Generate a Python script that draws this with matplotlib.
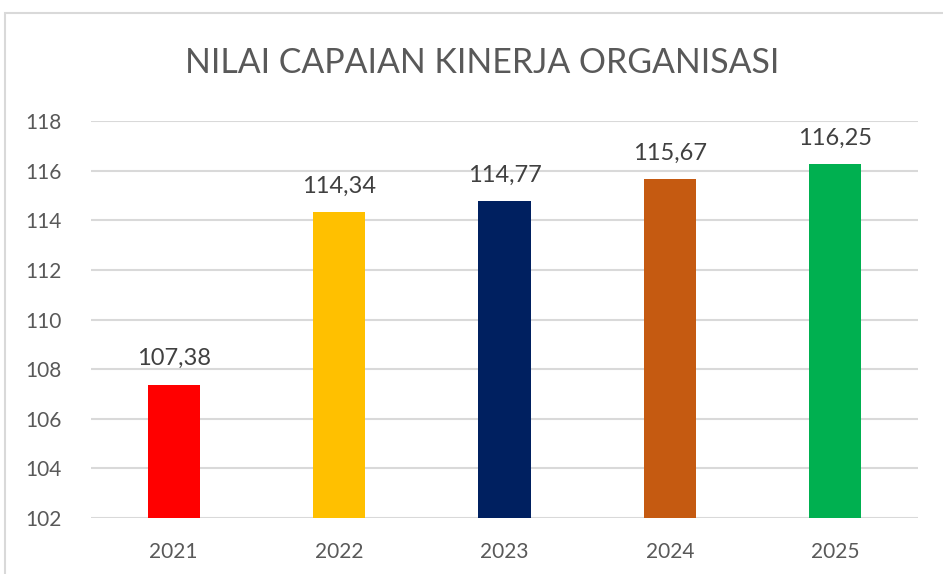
import matplotlib.pyplot as plt
from matplotlib.patches import Rectangle

# Data
years = ['2021', '2022', '2023', '2024', '2025']
values = [107.38, 114.34, 114.77, 115.67, 116.25]
colors = ['#FF0000', '#FFC000', '#002060', '#C55A11', '#00B050']
yticks = [102, 104, 106, 108, 110, 112, 114, 116, 118]

plt.rcParams['font.family'] = ['Lato', 'DejaVu Sans']

fig = plt.figure(figsize=(9.43, 5.74), dpi=100)
ax = fig.add_axes([91 / 943, 1 - 518 / 574, 827 / 943, 397 / 574])

# chart border
fig.patches.append(Rectangle((5 / 943, -0.1), 1.2, 1 - 13 / 574 + 0.1,
                             transform=fig.transFigure, fill=False,
                             edgecolor='#d9d9d9', linewidth=1.5))

x = range(len(years))
ax.bar(x, values, width=0.315, color=colors, zorder=3, bottom=0)
ax.set_ylim(102, 118)
ax.set_xlim(-0.5, len(years) - 0.5)
ax.set_yticks(yticks)
ax.set_yticklabels([str(t) for t in yticks])
ax.set_xticks(list(x))
ax.set_xticklabels(years)

ax.grid(axis='y', color='#d9d9d9', linewidth=1.5, zorder=0)
for s in ax.spines.values():
    s.set_visible(False)
ax.tick_params(length=0, labelsize=15, labelcolor='#595959')
ax.tick_params(axis='x', pad=17)
ax.tick_params(axis='y', pad=21)

for i, v in enumerate(values):
    ax.annotate(f'{v:.2f}'.replace('.', ','), (i, v), xytext=(0, 11),
                textcoords='offset points', ha='center', va='bottom',
                fontsize=17, color='#404040')

fig.text(482 / 943, 1 - 63 / 574, 'NILAI CAPAIAN KINERJA ORGANISASI',
         ha='center', va='center', fontsize=24.4, color='#595959')

fig.savefig('out.png', dpi=100)
